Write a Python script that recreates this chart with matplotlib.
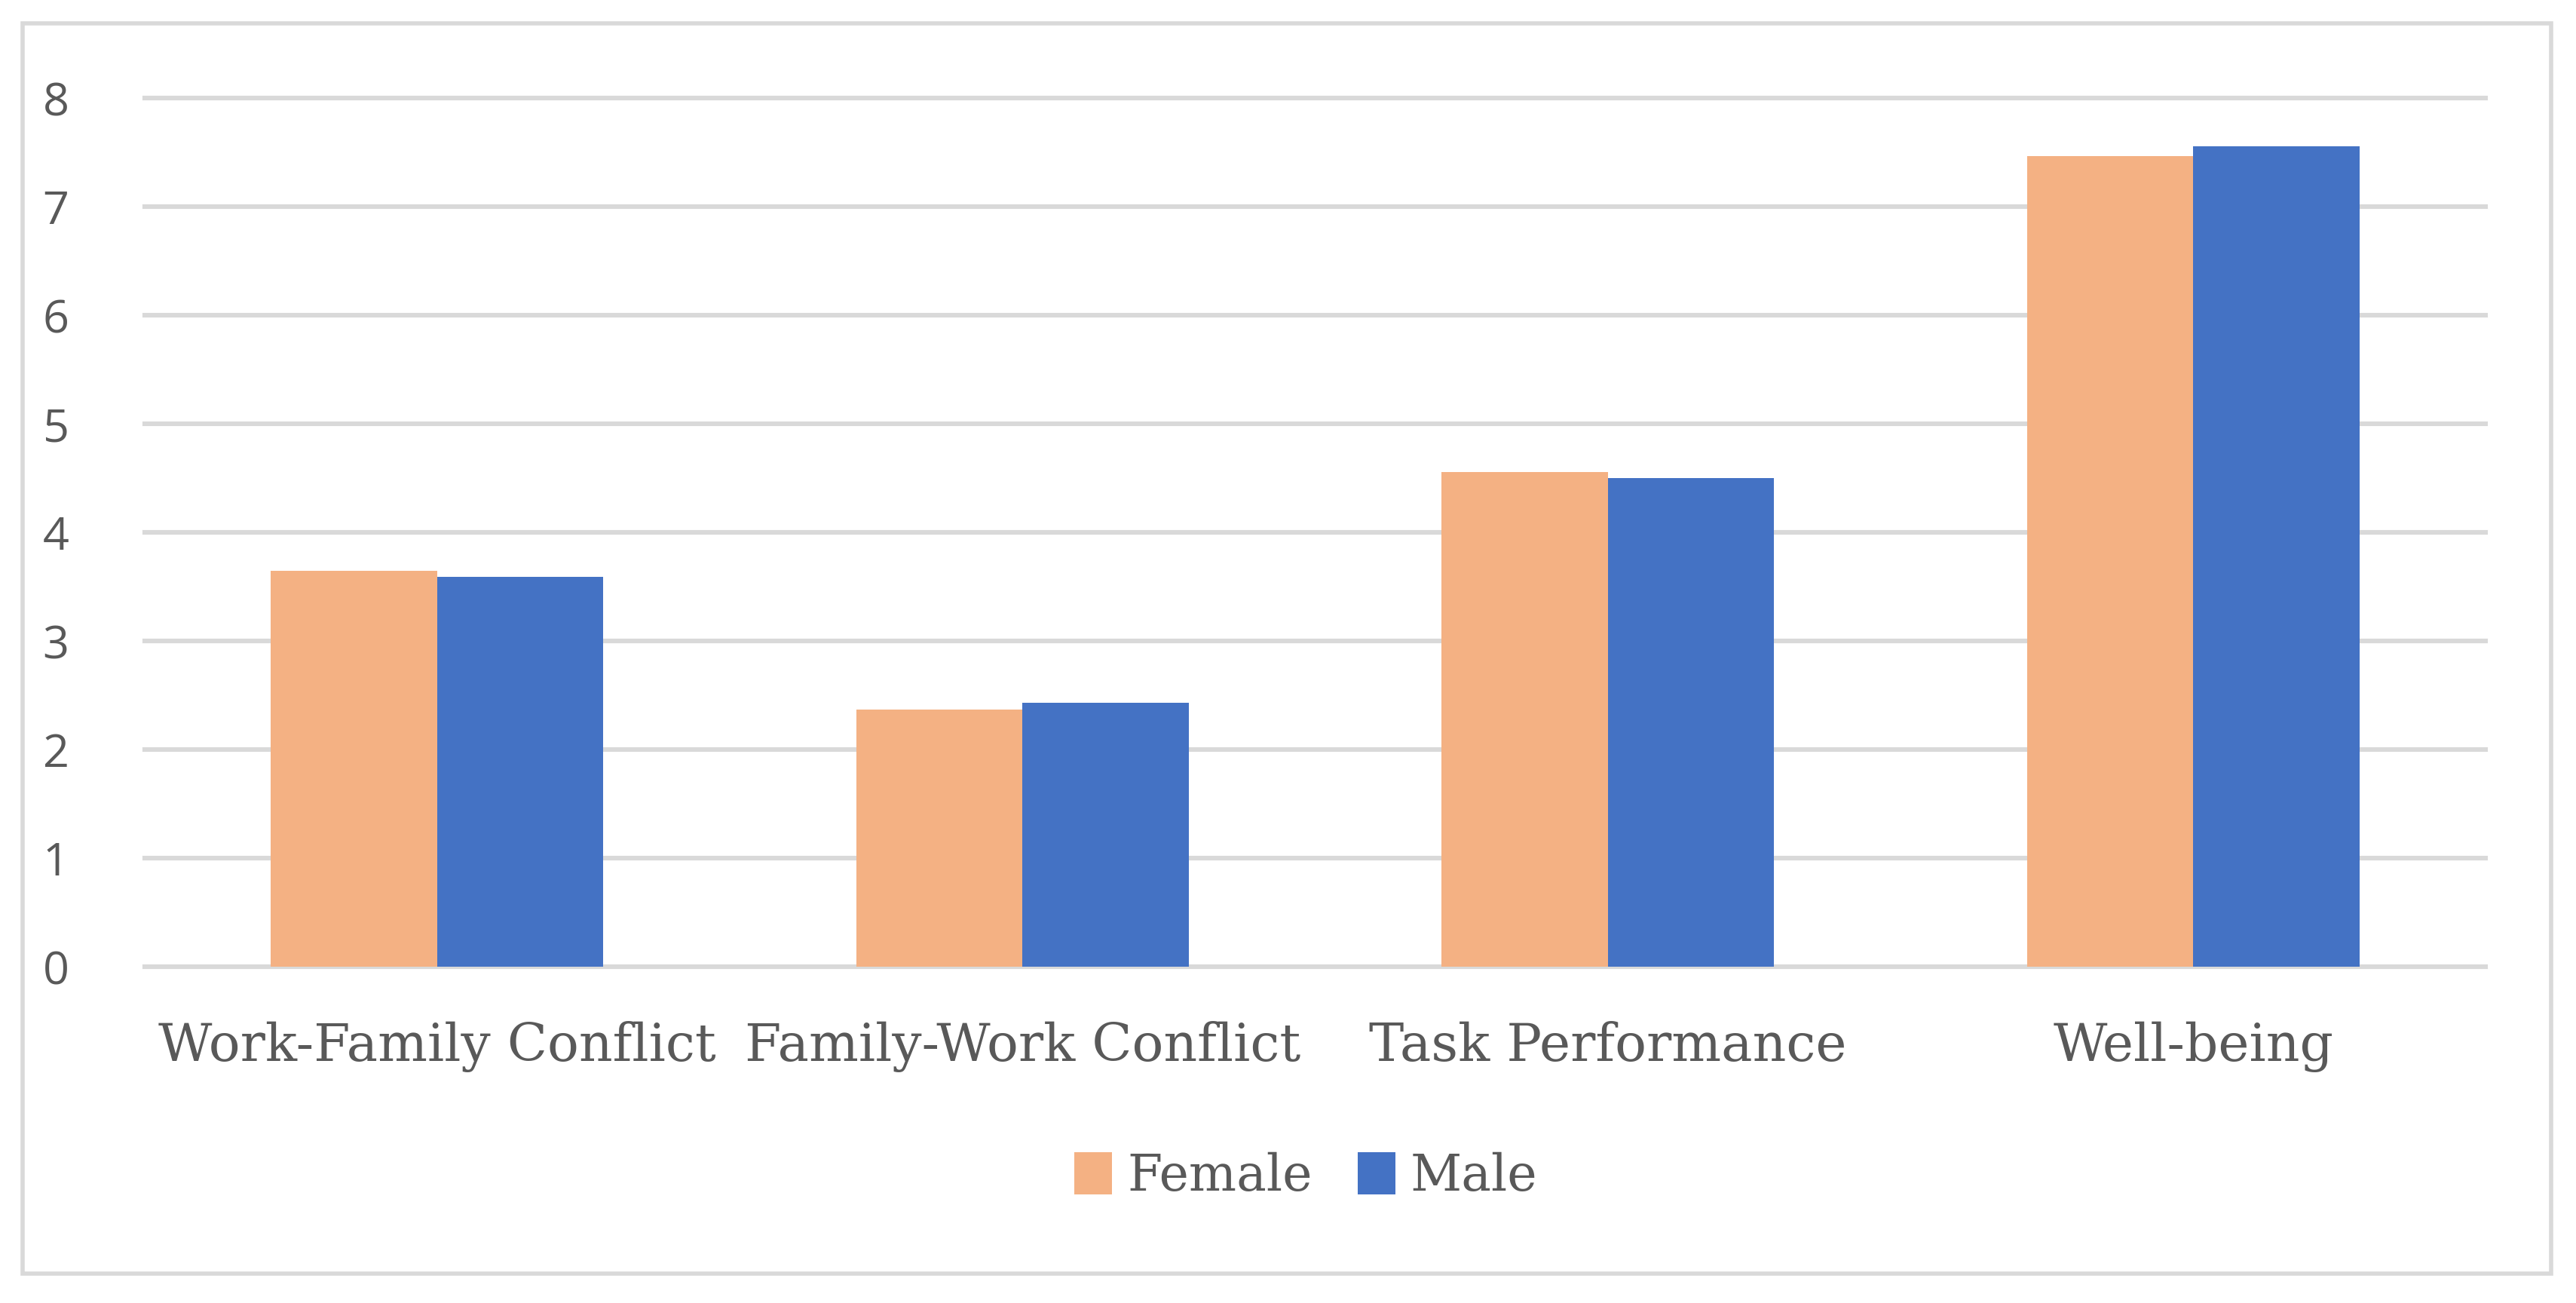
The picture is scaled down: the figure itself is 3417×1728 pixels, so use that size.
import matplotlib
matplotlib.use("Agg")
import matplotlib.pyplot as plt
import numpy as np
from matplotlib.patches import Rectangle

categories = ["Work-Family Conflict", "Family-Work Conflict", "Task Performance", "Well-being"]
female = [3.65, 2.37, 4.56, 7.47]
male = [3.59, 2.43, 4.50, 7.56]
series_names = ["Female", "Male"]
yticks = [0, 1, 2, 3, 4, 5, 6, 7, 8]

female_color = "#f4b183"
male_color = "#4472c4"
grid_color = "#d9d9d9"
text_color = "#595959"

fig = plt.figure(figsize=(3417 / 200, 1728 / 200), dpi=200)
ax = fig.add_axes([0.0561, 0.258, 0.9089, 0.6665])

x = np.arange(len(categories))
width = 0.284
ax.bar(x - width / 2, female, width, color=female_color, label=series_names[0], zorder=3)
ax.bar(x + width / 2, male, width, color=male_color, label=series_names[1], zorder=3)

ax.set_xlim(-0.5, len(categories) - 0.5)
ax.set_ylim(0, 8)
ax.set_yticks(yticks)
ax.yaxis.grid(True, color=grid_color, linewidth=2.2, zorder=0)
ax.set_axisbelow(True)
for s in ax.spines.values():
    s.set_visible(False)
ax.tick_params(axis="both", length=0)
ax.tick_params(axis="y", labelsize=22, labelcolor=text_color, pad=36)
ax.tick_params(axis="x", labelsize=25, labelcolor=text_color, pad=26)
for lab in ax.get_yticklabels():
    lab.set_family("Open Sans")
ax.set_xticks(x)
ax.set_xticklabels(categories, family="DejaVu Serif")
# keep the 0 and 8 gridlines at full thickness
for gl in ax.get_ygridlines():
    gl.set_clip_on(False)

leg = fig.legend(loc="center", bbox_to_anchor=(0.507, 0.097), ncol=2, frameon=False,
                 prop={"family": "DejaVu Serif", "size": 24}, handlelength=0.75,
                 handleheight=0.9, handletextpad=0.3, columnspacing=0.9)
for t in leg.get_texts():
    t.set_color(text_color)

# outer chart frame
fig.patches.append(Rectangle((0.0089, 0.0226), 0.9815, 0.9594, transform=fig.transFigure,
                             fill=False, edgecolor=grid_color, linewidth=2.0))

fig.savefig("out.png", dpi=200, facecolor="white")
